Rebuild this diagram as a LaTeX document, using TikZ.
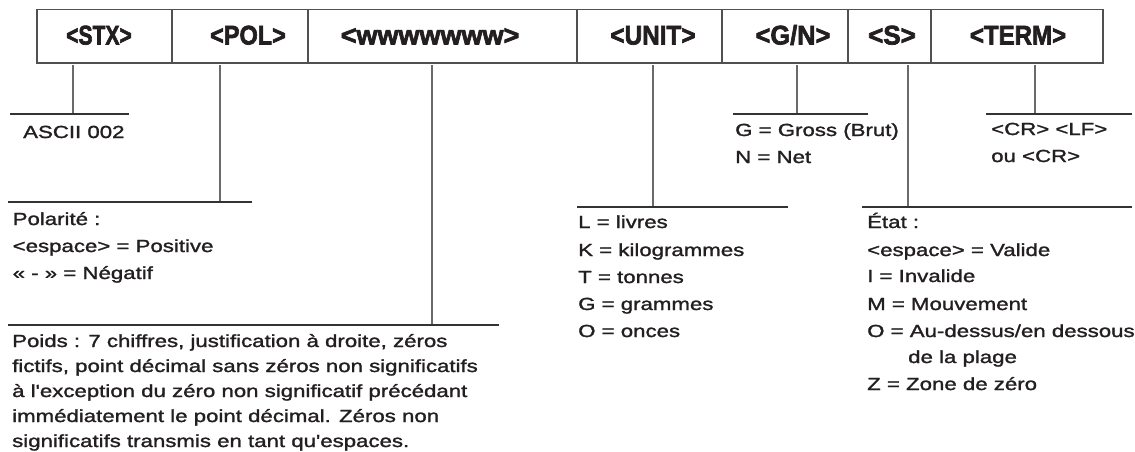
\documentclass[tikz,border=0pt]{standalone}
\usepackage{fontspec}
\usepackage{graphicx}
\setmainfont{Liberation Sans}
\newfontfamily\regfont[FakeStretch=1.27,FakeBold=1.5]{Liberation Sans}
\newfontfamily\hdrfont[FakeBold=2.6]{Liberation Sans Bold}
\definecolor{linegray}{HTML}{6A6A6A}
\definecolor{boxgray}{HTML}{505050}
\definecolor{txt}{HTML}{231F20}
\begin{document}
\begin{tikzpicture}[x=1pt,y=-1pt,
  hdr/.style={font=\hdrfont\fontsize{27}{27}\selectfont, inner sep=0pt, anchor=base, text=txt},
  desc/.style={font=\regfont\fontsize{17.5}{20}\selectfont, inner sep=0pt, anchor=base west, text=txt},
  lead/.style={draw=linegray, line width=1.2pt},
  shelf/.style={draw=black!80, line width=1.1pt},
  frame/.style={draw=boxgray, line width=1.5pt},
  divider/.style={draw=boxgray, line width=1.3pt}]
\useasboundingbox (0,0) rectangle (1135,452);
% frame
\coordinate (boxNW) at (37,9.5);
\coordinate (boxSE) at (1103,63);
\draw[frame] (boxNW) rectangle (boxSE);
\foreach \x [count=\i] in {172,308,577,722,848,931}{
  \coordinate (dT\i) at (\x,9.5);
  \coordinate (dB\i) at (\x,63);
  \draw[divider] (dT\i) -- (dB\i);
}
% header labels
\node[hdr] (stx)  at (99,44.5)   {\scalebox{0.78}[1]{<STX>}};
\node[hdr] (pol)  at (248,44.5)  {\scalebox{0.87}[1]{<POL>}};
\node[hdr] (wt)   at (430,44.5)  {\scalebox{1.0}[1]{<wwwwwww>}};
\node[hdr] (unit) at (653,44.5)  {\scalebox{0.90}[1]{<UNIT>}};
\node[hdr] (gn)   at (793,44.5)  {\scalebox{0.94}[1]{<G/N>}};
\node[hdr] (st)   at (892,44.5)  {\scalebox{0.96}[1]{<S>}};
\node[hdr] (term) at (1018,44.5) {\scalebox{0.89}[1]{<TERM>}};
% leaders and shelves
\coordinate (stxT) at (73,65);   \coordinate (stxB) at (73,114);
\coordinate (stxL) at (10,114);  \coordinate (stxR) at (129,114);
\draw[lead] (stxT) -- (stxB); \draw[shelf] (stxL) -- (stxR);

\coordinate (polT) at (220,65);  \coordinate (polB) at (220,202);
\coordinate (polL) at (8,202);   \coordinate (polR) at (252,202);
\draw[lead] (polT) -- (polB); \draw[shelf] (polL) -- (polR);

\coordinate (wtT) at (432,65);   \coordinate (wtB) at (432,325);
\coordinate (wtL) at (8,325);    \coordinate (wtR) at (499,325);
\draw[lead] (wtT) -- (wtB); \draw[shelf] (wtL) -- (wtR);

\coordinate (unitT) at (653,65); \coordinate (unitB) at (653,207);
\coordinate (unitL) at (577,207);\coordinate (unitR) at (788,207);
\draw[lead] (unitT) -- (unitB); \draw[shelf] (unitL) -- (unitR);

\coordinate (gnT) at (797,65);   \coordinate (gnB) at (797,114);
\coordinate (gnL) at (733,114);  \coordinate (gnR) at (868,114);
\draw[lead] (gnT) -- (gnB); \draw[shelf] (gnL) -- (gnR);

\coordinate (stT) at (908,65);   \coordinate (stB) at (908,207);
\coordinate (stL) at (862,207);  \coordinate (stR) at (1132,207);
\draw[lead] (stT) -- (stB); \draw[shelf] (stL) -- (stR);

\coordinate (termT) at (1035,65);\coordinate (termB) at (1035,114);
\coordinate (termL) at (986,114);\coordinate (termR) at (1132,114);
\draw[lead] (termT) -- (termB); \draw[shelf] (termL) -- (termR);
% descriptions
\node[desc] (ascii) at (23,138) {ASCII 002};

\node[desc] (pol1) at (12.5,225) {Polarité :};
\node[desc] (pol2) at (12.5,252) {<espace> = Positive};
\node[desc] (pol3) at (12.5,279) {« - » = Négatif};

\node[desc] (wt1) at (12,347) {Poids : 7 chiffres, justification à droite, zéros};
\node[desc] (wt2) at (12,372) {fictifs, point décimal sans zéros non significatifs};
\node[desc] (wt3) at (12,397) {à l'exception du zéro non significatif précédant};
\node[desc] (wt4) at (12,422) {immédiatement le point décimal. Zéros non};
\node[desc] (wt5) at (12,447) {significatifs transmis en tant qu'espaces.};

\node[desc] (un1) at (578,228) {L = livres};
\node[desc] (un2) at (578,256) {K = kilogrammes};
\node[desc] (un3) at (578,283) {T = tonnes};
\node[desc] (un4) at (578,310) {G = grammes};
\node[desc] (un5) at (578,337) {O = onces};

\node[desc] (gn1) at (735,136) {G = Gross (Brut)};
\node[desc] (gn2) at (735,163) {N = Net};

\node[desc] (cr1) at (991,135) {<CR> <LF>};
\node[desc] (cr2) at (991,162) {ou <CR>};

\node[desc] (st1) at (867,228) {État :};
\node[desc] (st2) at (867,256) {<espace> = Valide};
\node[desc] (st3) at (867,282) {I = Invalide};
\node[desc] (st4) at (867,310) {M = Mouvement};
\node[desc] (st5) at (867,337) {O = Au-dessus/en dessous};
\node[desc] (st6) at (908,363) {de la plage};
\node[desc] (st7) at (867,390) {Z = Zone de zéro};
\end{tikzpicture}
\end{document}
